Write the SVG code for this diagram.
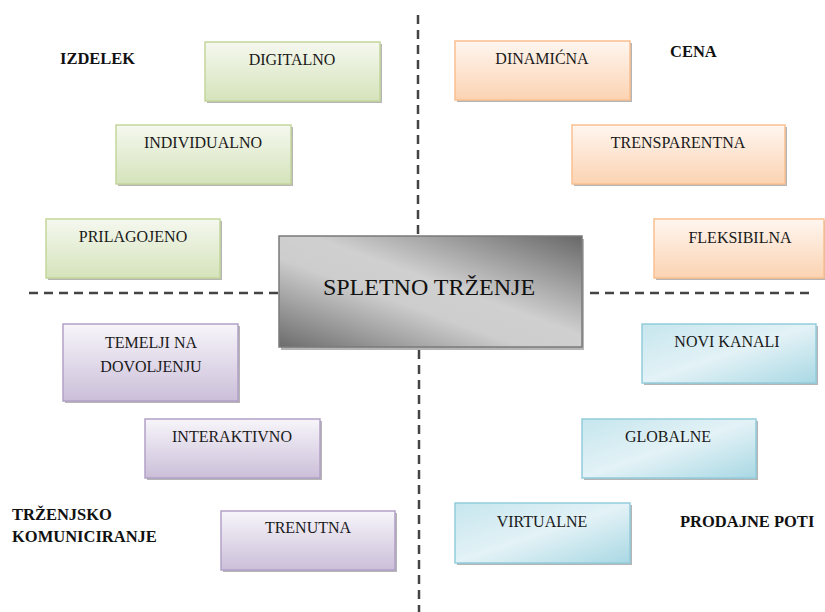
<svg xmlns="http://www.w3.org/2000/svg" width="825" height="612" viewBox="0 0 825 612">
<defs>
<linearGradient id="gGreen" x1="0" y1="0" x2="0" y2="1"><stop offset="0" stop-color="#f5f8ef"/><stop offset="1" stop-color="#d5e3bb"/></linearGradient>
<linearGradient id="gOrange" x1="0" y1="0" x2="0" y2="1"><stop offset="0" stop-color="#fff6f0"/><stop offset="1" stop-color="#fbd3b2"/></linearGradient>
<linearGradient id="gPurple" x1="0" y1="0" x2="0" y2="1"><stop offset="0" stop-color="#f7f5fa"/><stop offset="1" stop-color="#cbbfd9"/></linearGradient>
<linearGradient id="gBlue" x1="0" y1="0" x2="1" y2="1"><stop offset="0" stop-color="#c6e6ee"/><stop offset="0.5" stop-color="#e3f2f6"/><stop offset="1" stop-color="#a9d8e4"/></linearGradient>
<linearGradient id="gGray" x1="1" y1="0" x2="0" y2="1"><stop offset="0" stop-color="#686868"/><stop offset="0.45" stop-color="#d0d0d0"/><stop offset="0.6" stop-color="#cdcdcd"/><stop offset="1" stop-color="#6c6c6c"/></linearGradient>
</defs>
<style>
.sh{fill:#b5b5b5;}
.g{fill:url(#gGreen);stroke:#c3d69b;stroke-width:1.5;}
.o{fill:url(#gOrange);stroke:#fac090;stroke-width:1.5;}
.p{fill:url(#gPurple);stroke:#b2a1c7;stroke-width:1.5;}
.b{fill:url(#gBlue);stroke:#92cddc;stroke-width:1.5;}
text{font-family:'Liberation Serif','Times New Roman',Tinos,'DejaVu Serif',serif;}
.t{font-size:16px;fill:#1a1a1a;text-anchor:middle;}
.big{font-size:24px;fill:#111;text-anchor:middle;}
.lbl{font-size:16.5px;font-weight:bold;fill:#111;}
.dash{stroke:#444;stroke-width:2.5;fill:none;stroke-dasharray:9 6;}
</style>
<g id="connectors">
<line class="dash" x1="418" y1="15" x2="418" y2="236"/>
<line class="dash" x1="419" y1="350" x2="419" y2="612"/>
<line class="dash" x1="29" y1="293" x2="279" y2="293"/>
<line class="dash" x1="590" y1="293" x2="813" y2="293"/>
</g>
<g id="center">
<rect class="sh" x="281" y="239" width="303" height="111"/>
<rect x="279" y="236" width="303" height="111" fill="url(#gGray)" stroke="#7a7a7a" stroke-width="1.5"/>
<text class="big" x="429" y="295">SPLETNO TRŽENJE</text>
</g>
<g id="digitalno"><rect class="sh" x="207" y="44" width="175" height="59"/><rect class="g" x="205" y="42" width="175" height="59"/><text class="t" x="292" y="65">DIGITALNO</text></g>
<g id="individualno"><rect class="sh" x="118" y="127" width="175" height="59"/><rect class="g" x="116" y="125" width="175" height="59"/><text class="t" x="203" y="148">INDIVIDUALNO</text></g>
<g id="prilagojeno"><rect class="sh" x="48" y="221" width="174" height="59"/><rect class="g" x="46" y="219" width="174" height="59"/><text class="t" x="133" y="242">PRILAGOJENO</text></g>
<g id="dinamicna"><rect class="sh" x="457" y="43" width="175" height="59"/><rect class="o" x="455" y="41" width="175" height="59"/><text class="t" x="542" y="64">DINAMIĆNA</text></g>
<g id="trensparentna"><rect class="sh" x="574" y="127" width="213" height="59"/><rect class="o" x="572" y="125" width="213" height="59"/><text class="t" x="678" y="148">TRENSPARENTNA</text></g>
<g id="fleksibilna"><rect class="sh" x="656" y="221" width="169" height="59"/><rect class="o" x="654" y="219" width="170" height="59"/><text class="t" x="740" y="243">FLEKSIBILNA</text></g>
<g id="temelji"><rect class="sh" x="65" y="326" width="175" height="77"/><rect class="p" x="63" y="324" width="175" height="77"/><text class="t" x="151" y="348">TEMELJI NA</text><text class="t" x="151" y="372">DOVOLJENJU</text></g>
<g id="interaktivno"><rect class="sh" x="147" y="421" width="175" height="59"/><rect class="p" x="145" y="419" width="175" height="59"/><text class="t" x="232" y="442">INTERAKTIVNO</text></g>
<g id="trenutna"><rect class="sh" x="223" y="513" width="174" height="59"/><rect class="p" x="221" y="511" width="174" height="59"/><text class="t" x="308" y="533">TRENUTNA</text></g>
<g id="novikanali"><rect class="sh" x="644" y="326" width="174" height="59"/><rect class="b" x="642" y="324" width="174" height="59"/><text class="t" x="727" y="347">NOVI KANALI</text></g>
<g id="globalne"><rect class="sh" x="584" y="421" width="174" height="59"/><rect class="b" x="582" y="419" width="174" height="59"/><text class="t" x="668" y="442">GLOBALNE</text></g>
<g id="virtualne"><rect class="sh" x="457" y="505" width="175" height="60"/><rect class="b" x="455" y="503" width="175" height="60"/><text class="t" x="542" y="527">VIRTUALNE</text></g>
<g id="labels">
<text class="lbl" x="60" y="64">IZDELEK</text>
<text class="lbl" x="670" y="57">CENA</text>
<text class="lbl" x="12" y="520">TRŽENJSKO</text>
<text class="lbl" x="12" y="542">KOMUNICIRANJE</text>
<text class="lbl" x="680" y="527">PRODAJNE POTI</text>
</g>
</svg>
